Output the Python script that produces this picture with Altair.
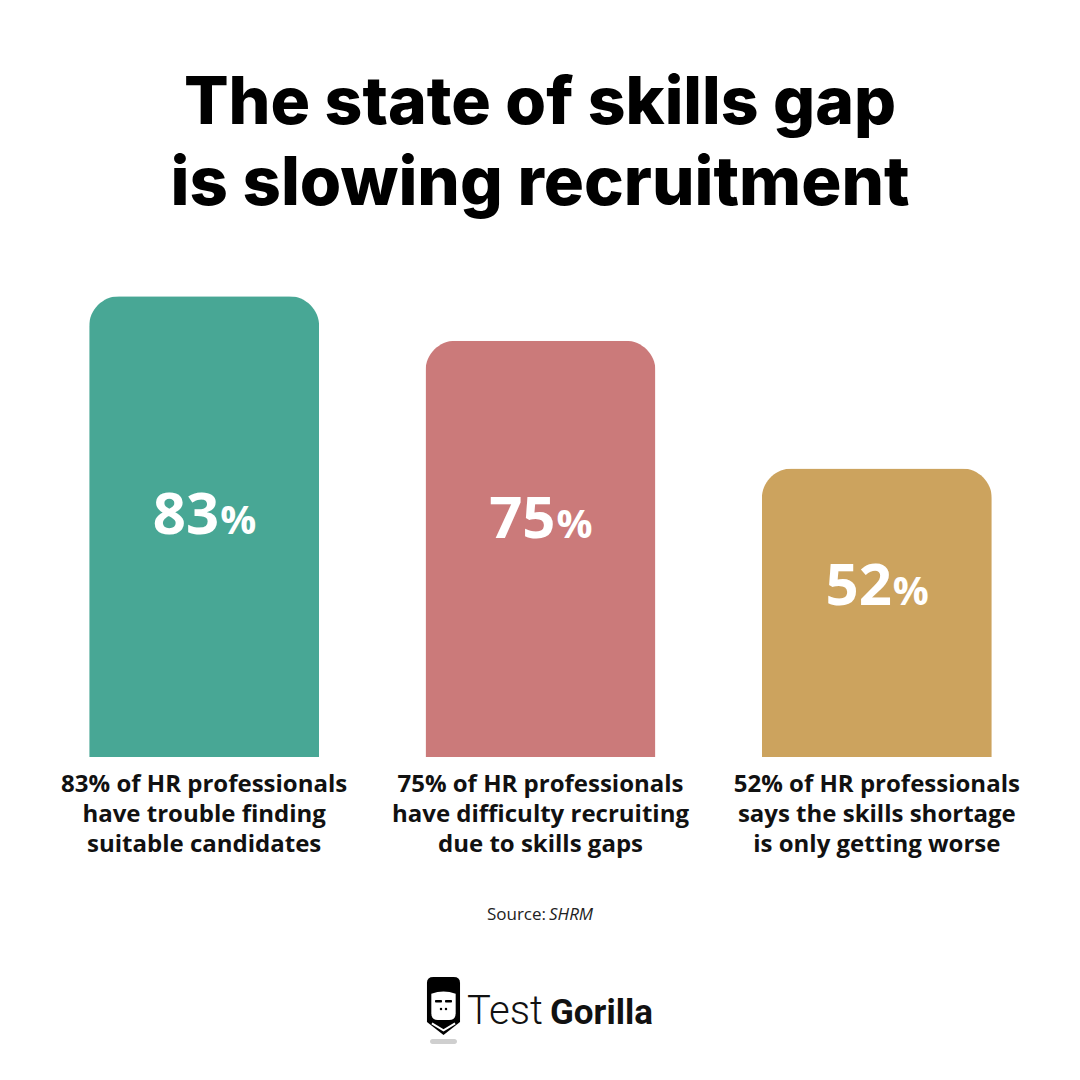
import altair as alt
import pandas as pd

# ---- data ----
keys = ["a", "b", "c"]
values = [83, 75, 52]
captions = [
    "83% of HR professionals\nhave trouble finding\nsuitable candidates",
    "75% of HR professionals\nhave difficulty recruiting\ndue to skills gaps",
    "52% of HR professionals\nsays the skills shortage\nis only getting worse",
]
colors = ["#48A795", "#CB7A7A", "#CCA35E"]
title_lines = ["The state of skills gap", "is slowing recruitment"]
source_label = "Source:"
source_name = "SHRM"
brand_light = "Test"
brand_bold = "Gorilla"

df = pd.DataFrame({"key": keys, "value": values, "caption": captions, "color": colors})

xscale = alt.Scale(range=[28, 1037], paddingInner=0, paddingOuter=0)
yscale = alt.Scale(domain=[0, 100], range=[749, 194])

base = alt.Chart(df).encode(
    x=alt.X("key:N", sort=keys, scale=xscale, axis=None)
)

bars = base.mark_bar(width=230, cornerRadiusTopLeft=30, cornerRadiusTopRight=30).encode(
    y=alt.Y("value:Q", scale=yscale, axis=None),
    color=alt.Color("color:N", scale=None, legend=None),
)

lab = base.transform_calculate(
    pos="min(datum.value * 0.527, 40.2)", num="'' + datum.value"
)
nums = lab.mark_text(
    font="Open Sans", fontWeight="bold", fontSize=58, color="white",
    align="right", baseline="alphabetic", dx=15,
).encode(y=alt.Y("pos:Q", scale=yscale, axis=None), text="num:N")
pcts = lab.mark_text(
    font="Open Sans", fontWeight="bold", fontSize=40, color="white",
    align="left", baseline="alphabetic", dx=16,
).encode(y=alt.Y("pos:Q", scale=yscale, axis=None), text=alt.value("%"))

caps = base.mark_text(
    font="Open Sans", fontWeight="bold", fontSize=24, lineHeight=30,
    lineBreak="\n", baseline="top", color="#111111", dy=16,
).encode(y=alt.datum(0, scale=yscale), text="caption:N")

one = pd.DataFrame({"i": [0]})


def txt(text, x, y, **kw):
    return alt.Chart(one).mark_text(**kw).encode(
        x=alt.value(x), y=alt.value(y), text=alt.value(text)
    )


t1 = txt(title_lines[0], 532, 116, font="Inter", fontWeight=800, fontSize=66,
         align="center", baseline="alphabetic", color="#000000")
t2 = txt(title_lines[1], 532, 197, font="Inter", fontWeight=800, fontSize=67,
         align="center", baseline="alphabetic", color="#000000")

s1 = txt(source_label, 538, 912, font="Open Sans", fontSize=17,
         align="right", baseline="alphabetic", color="#222222")
s2 = txt(source_name, 541, 912, font="Open Sans", fontSize=17, fontStyle="italic",
         align="left", baseline="alphabetic", color="#222222")

b1 = txt(brand_light, 459, 1016, font="Roboto", fontWeight=300, fontSize=40,
         align="left", baseline="alphabetic", color="#111111")
b2 = txt(brand_bold, 542, 1016, font="Roboto", fontWeight="bold", fontSize=35,
         align="left", baseline="alphabetic", color="#111111")

# logo icon
icon_outline = ("M-0.57,-0.8 Q-0.57,-1 -0.35,-1 L0.35,-1 Q0.57,-1 0.57,-0.8 "
                "L0.57,0.55 L0,1 L-0.57,0.55 Z")
face = ("M-0.42,-0.42 Q0,-0.58 0.42,-0.42 L0.42,0.25 Q0.42,0.48 0.2,0.48 "
        "L-0.2,0.48 Q-0.42,0.48 -0.42,0.25 Z")
chev = "M-0.4,0.6 L0,0.84 L0.4,0.6"


def sym(shape, size, **kw):
    return alt.Chart(one).mark_point(shape=shape, size=size, **kw).encode(
        x=alt.value(435.5), y=alt.value(998)
    )


ic1 = sym(icon_outline, 3364, filled=True, color="#000000", opacity=1)
ic2 = sym(face, 3364, filled=True, color="#ffffff", opacity=1)
ic3 = sym(chev, 3364, filled=False, color="#ffffff", strokeWidth=2, opacity=1)
eye_l = alt.Chart(one).mark_rect(color="#000", cornerRadius=1).encode(
    x=alt.value(427), x2=alt.value(434), y=alt.value(992), y2=alt.value(994.5))
eye_r = alt.Chart(one).mark_rect(color="#000", cornerRadius=1).encode(
    x=alt.value(437), x2=alt.value(444), y=alt.value(992), y2=alt.value(994.5))
nose_l = alt.Chart(one).mark_point(shape="circle", filled=True, size=6, color="#000", opacity=1).encode(
    x=alt.value(433), y=alt.value(1001))
nose_r = alt.Chart(one).mark_point(shape="circle", filled=True, size=6, color="#000", opacity=1).encode(
    x=alt.value(438), y=alt.value(1001))
shadow = alt.Chart(one).mark_rect(color="#cfcfcf", cornerRadius=3).encode(
    x=alt.value(422), x2=alt.value(449), y=alt.value(1031), y2=alt.value(1036))

chart = alt.layer(
    bars, nums, pcts, caps, t1, t2, s1, s2, b1, b2,
    shadow, ic1, ic2, ic3, eye_l, eye_r, nose_l, nose_r,
).properties(
    width=1064, height=1064,
    autosize=alt.AutoSizeParams(type="none"), padding=0,
    background="white",
).configure_view(stroke=None)

chart.save("out.html", embed_options={"renderer": "svg", "actions": False})
